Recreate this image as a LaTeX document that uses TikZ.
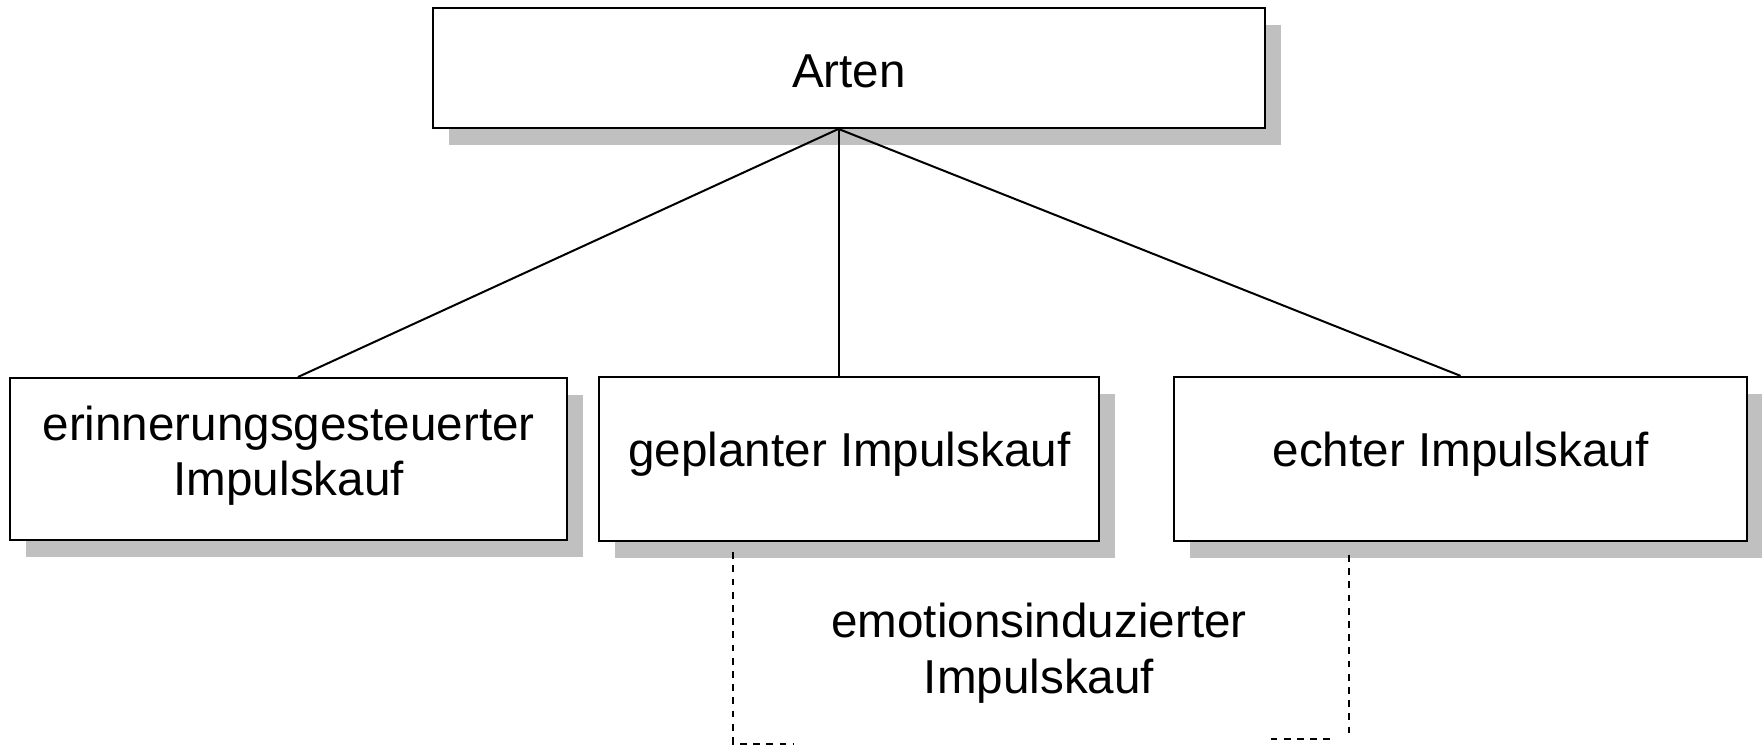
\documentclass[tikz,border=0pt]{standalone}
\usepackage{fontspec}
\setmainfont{Liberation Sans}
\usetikzlibrary{shadows}
\definecolor{shadowgray}{RGB}{192,192,192}
\begin{document}
\begin{tikzpicture}[x=0.5pt,y=-0.5pt,
  box/.style={draw=black, line width=0.95pt, fill=white, rectangle, inner sep=0pt,
    align=center, font=\fontsize{23.8pt}{27.6pt}\selectfont,
    drop shadow={shadow xshift=8pt, shadow yshift=-8.5pt, fill=shadowgray, opacity=1}},
  link/.style={line width=1pt},
  bracket/.style={line width=0.85pt, dash pattern=on 3.4pt off 3.2pt},
  caption/.style={align=center, inner sep=0pt, font=\fontsize{23.8pt}{27.9pt}\selectfont}
]
\useasboundingbox (0,0) rectangle (1762,747);

% category boxes
\node[box, minimum width=416pt, minimum height=60pt, text height=19.2pt, text depth=0pt]
  (arten) at (849,68) {Arten};
\node[box, minimum width=278.6pt, minimum height=81pt, text height=44.8pt, text depth=8.4pt]
  (erin) at (288.7,459) {erinnerungsgesteuerter\\Impulskauf};
\node[box, minimum width=250pt, minimum height=82pt, text height=17.2pt, text depth=9pt]
  (geplant) at (849.4,458.8) {geplanter Impulskauf};
\node[box, minimum width=286.2pt, minimum height=82pt, text height=17.2pt, text depth=9pt]
  (echt) at (1460.5,458.8) {echter Impulskauf};

% tree connectors
\coordinate (apex) at ([xshift=-5.25pt]arten.south);
\draw[link] (apex) -- ([xshift=4.6pt]erin.north);
\draw[link] (apex) -- (apex |- geplant.north);
\draw[link] (apex) -- (echt.north);

% overlapping subtype between the two right-hand boxes
\node[caption] (emo) at (1039,653.5) {emotionsinduzierter\\Impulskauf};

\coordinate (bl1) at (733.3,552.3);
\coordinate (bl2) at (733.3,743.7);
\coordinate (bl3) at (794,743.7);
\draw[bracket] (bl1) -- (bl2) -- (bl3);

\coordinate (br1) at (1349,555);
\coordinate (br2) at (1349,737.5);
\coordinate (br3) at (1270.5,739);
\coordinate (br4) at (1331,739);
\draw[bracket] (br1) -- (br2);
\draw[bracket] (br3) -- (br4);
\end{tikzpicture}
\end{document}
